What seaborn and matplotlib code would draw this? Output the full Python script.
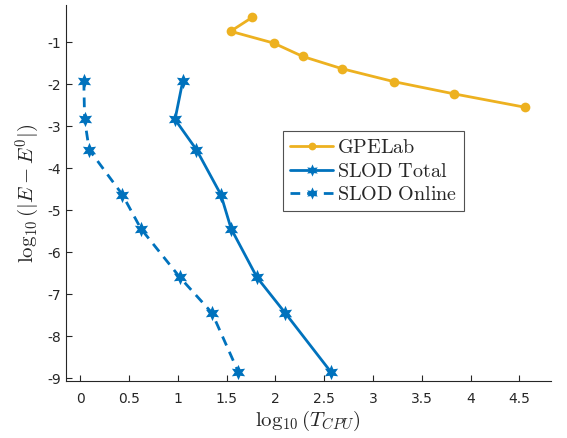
import pandas as pd
import seaborn as sns
import matplotlib.pyplot as plt

# data
gpe_x = [1.76, 1.54, 1.98, 2.28, 2.68, 3.215, 3.83, 4.56]
gpe_y = [-0.41, -0.74, -1.02, -1.34, -1.63, -1.94, -2.23, -2.55]

slod_total_x = [1.05, 0.97, 1.19, 1.44, 1.545, 1.81, 2.10, 2.57]
slod_online_x = [0.035, 0.043, 0.09, 0.43, 0.62, 1.02, 1.35, 1.62]
slod_y = [-1.92, -2.84, -3.56, -4.63, -5.44, -6.6, -7.45, -8.86]

sns.set_style("ticks")
plt.rcParams["mathtext.fontset"] = "cm"
plt.rcParams["axes.unicode_minus"] = False
plt.rcParams["font.family"] = ["DejaVu Sans"]

blue = "#0072BD"
gold = "#EDB120"
star = (6, 1, 0)

fig = plt.figure(figsize=(5.67, 4.38), dpi=100)
ax = fig.add_axes([0.116, 0.130, 0.855, 0.858])

sns.lineplot(x=gpe_x, y=gpe_y, sort=False, ax=ax, color=gold, lw=2,
             marker="o", markersize=7, markeredgewidth=0, label=r"$\mathrm{GPELab}$")
sns.lineplot(x=slod_total_x, y=slod_y, sort=False, ax=ax, color=blue, lw=2,
             marker=star, markersize=11, markeredgewidth=0, label=r"$\mathrm{SLOD\ Total}$")
sns.lineplot(x=slod_online_x, y=slod_y, sort=False, ax=ax, color=blue, lw=2,
             linestyle=(0, (3.5, 2.5)), marker=star, markersize=11, markeredgewidth=0,
             label=r"$\mathrm{SLOD\ Online}$")

ax.set_xlim(-0.15, 4.82)
ax.set_ylim(-9.07, -0.12)
ax.set_xticks([0, 0.5, 1, 1.5, 2, 2.5, 3, 3.5, 4, 4.5])
ax.set_xticklabels(["0", "0.5", "1", "1.5", "2", "2.5", "3", "3.5", "4", "4.5"])
ax.set_yticks(range(-9, 0))
ax.tick_params(direction="in", length=4, width=0.8, labelsize=10, colors="#262626")
ax.tick_params(axis="x", pad=8)
for side in ["top", "right"]:
    ax.spines[side].set_visible(False)
for side in ["left", "bottom"]:
    ax.spines[side].set_color("#262626")

ax.set_xlabel(r"$\log_{10}(T_{CPU})$", fontsize=15, color="#262626", labelpad=2)
ax.set_ylabel(r"$\log_{10}(|E-E^0|)$", fontsize=15, color="#262626", labelpad=4)

leg = ax.legend(loc="upper left", bbox_to_anchor=(0.449, 0.665), fontsize=14.5,
                frameon=True, fancybox=False, edgecolor="#262626", markerscale=0.8,
                handlelength=2.1, handletextpad=0.2, borderpad=0.35, labelspacing=0.22,
                borderaxespad=0)
leg.get_frame().set_linewidth(0.8)

fig.savefig("out.png", dpi=100)
plt.close()
